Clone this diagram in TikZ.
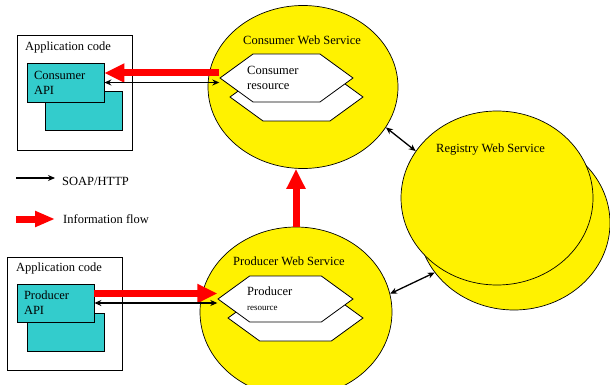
\documentclass[tikz,border=0pt]{standalone}
\usepackage{fontspec}
\setmainfont{Liberation Serif}
\usepackage{xcolor}
\usetikzlibrary{shapes,arrows,arrows.meta,positioning,calc}
\definecolor{apicyan}{RGB}{51,204,204}

\begin{document}
\begin{tikzpicture}[x=1pt,y=-1pt]
  % Definir estilos
  \tikzstyle{appbox}=[rectangle, draw=black, fill=white, line width=0.8pt, minimum width=115pt, minimum height=115pt, inner sep=0pt]
  \tikzstyle{api}=[rectangle, draw=black, fill=apicyan, line width=0.8pt, minimum height=39pt, text width=63pt, inner xsep=7pt, inner ysep=0pt, align=left, font=\fontsize{12.5}{15}\selectfont]
  \tikzstyle{ws}=[ellipse, draw=black, fill=yellow, line width=0.7pt, inner sep=0pt]
  \tikzstyle{res}=[signal, signal to=west and east, signal pointer angle=72, draw=black, fill=white, line width=0.8pt, minimum width=133pt, minimum height=48pt, inner sep=0pt]
  \tikzstyle{lbl}=[font=\fontsize{12.5}{15}\selectfont, inner sep=0pt, align=left]
  \tikzstyle{soap}=[<->, >={Stealth[length=7pt,width=6pt]}, line width=1.3pt]
  \tikzstyle{flow}=[-{Triangle[length=20pt,width=18pt]}, red, line width=7pt]

  \clip (0,0) rectangle (610,385);

  % Aplicacion consumidora
  \node[appbox] (capp) at (74.5,92.5) {};
  \node[lbl, anchor=base west] (capptxt) at (25,51) {Application code};
  \node[api] (capiback) at (84,111) {};
  \node[api] (capi) at (65.5,82.5) {Consumer\\API};

  % Consumer Web Service
  \node[ws, minimum width=190pt, minimum height=163pt] (cws) at (303,87) {};
  \node[lbl, anchor=base west] (cwstxt) at (243,45) {Consumer Web Service};
  \node[res] (cresback) at (296.5,97) {};
  \node[res] (cres) at (286.5,78) {};
  \node[lbl, anchor=north west] (crestxt) at (247,66) {Consumer\\resource};

  % Registry Web Service
  \node[ws, minimum width=192pt, minimum height=174pt] (regback) at (514,223) {};
  \node[ws, minimum width=192pt, minimum height=174pt] (reg) at (497,198) {};
  \node[lbl, anchor=base west] (regtxt) at (436,152) {Registry Web Service};

  % Aplicacion productora
  \node[appbox, minimum height=113pt] (papp) at (64.5,313.5) {};
  \node[lbl, anchor=base west] (papptxt) at (16,271) {Application code};
  \node[api, minimum height=38pt] (papiback) at (65.5,332) {};
  \node[api, minimum height=38pt] (papi) at (55.5,303) {Producer\\API};

  % Producer Web Service
  \node[ws, minimum width=192pt, minimum height=170pt] (pws) at (296,312) {};
  \node[lbl, anchor=base west] (pwstxt) at (233,265) {Producer Web Service};
  \node[res, minimum width=135pt, minimum height=46pt] (presback) at (295.5,318) {};
  \node[res, minimum width=135pt, minimum height=46pt] (pres) at (285.5,299) {};
  \node[lbl, anchor=north west] (prestxt) at (247,287) {Producer\\{\fontsize{9}{10}\selectfont resource}};

  % Flujo de informacion
  \draw[flow] ([yshift=5pt]cres.west) -- ([yshift=5pt]cres.west -| capi.east);
  \draw[flow] ([yshift=9.5pt]papi.east) -- ([yshift=9.5pt]papi.east -| pres.west);
  \draw[flow] (pws.north) -- (pws.north |- cws.south);

  % SOAP/HTTP
  \draw[soap] (capi.east) -- (capi.east -| cres.west);
  \draw[soap] (papi.east) -- (papi.east -| pres.west);
  \draw[soap] (cws.-26) -- (reg.150);
  \draw[soap] (pws.11) -- (regback.-148);

  % Leyenda
  \coordinate (lsoapfrom) at (16,178);
  \node[lbl, anchor=base west] (lsoap) at (62,185) {SOAP/HTTP};
  \draw[soap, ->, shorten >=7pt] (lsoapfrom) -- (lsoapfrom -| lsoap.west);
  \coordinate (lflowfrom) at (16,219);
  \node[lbl, anchor=base west] (lflow) at (63,223) {Information flow};
  \draw[flow, -{Triangle[length=20pt,width=15pt]}, shorten >=8pt] (lflowfrom) -- (lflowfrom -| lflow.west);
\end{tikzpicture}
\end{document}
